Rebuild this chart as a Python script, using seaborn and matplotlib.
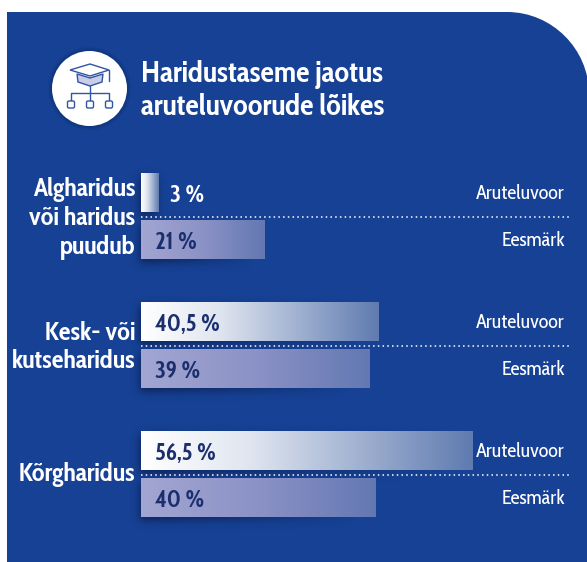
import math
import numpy as np
import pandas as pd
import seaborn as sns
import matplotlib
matplotlib.use("Agg")
import matplotlib.pyplot as plt
import matplotlib.patches as mpatches
from matplotlib.colors import LinearSegmentedColormap
from matplotlib.transforms import ScaledTranslation

# data
groups = ["Algharidus\nvõi haridus\npuudub", "Kesk- või\nkutseharidus", "Kõrgharidus"]
series = ["Aruteluvoor", "Eesmärk"]
aruteluvoor = [3, 40.5, 56.5]
eesmark = [21, 39, 40]
labels_a = ["3 %", "40,5 %", "56,5 %"]
labels_e = ["21 %", "39 %", "40 %"]
title = "Haridustaseme jaotus\naruteluvoorude lõikes"

W, H = 587, 562
BLUE = "#164194"
NAVY = "#1b2f6e"

sns.set_theme(style="white")
plt.rcParams["font.family"] = ["Cabin Condensed", "Liberation Sans", "DejaVu Sans"]

df = pd.DataFrame({
    "group": groups * 2,
    "series": [series[0]] * 3 + [series[1]] * 3,
    "value": aruteluvoor + eesmark,
})

fig = plt.figure(figsize=(W / 100, H / 100), dpi=100, facecolor="white")


def px(x, y, w, h):
    return [x / W, 1 - (y + h) / H, w / W, h / H]


# background panel, pixel coordinates
bg = fig.add_axes([0, 0, 1, 1])
bg.set_xlim(0, W)
bg.set_ylim(H, 0)
bg.axis("off")
panel = mpatches.PathPatch(
    mpatches.Path(
        [(7, H + 5), (7, 12), (507, 12), (552, 12), (589, 49), (589, 94), (589, H + 5), (7, H + 5)],
        [1, 2, 2, 4, 4, 4, 2, 2],
    ),
    fc=BLUE, ec="none",
)
bg.add_patch(panel)

# chart
ax = fig.add_axes(px(141, 152.25, 446, 386.75))
ax.patch.set_alpha(0)
sns.barplot(
    data=df, y="group", x="value", hue="series", hue_order=series, order=groups,
    orient="h", width=0.729, gap=0.18, legend=False, ax=ax, color="white",
    saturation=1, zorder=3,
)
ax.set_xlim(0, 446 / 5.87)
ax.set_ylim(2.5, -0.5)
ax.set_xlabel("")
ax.set_ylabel("")
ax.set_xticks([])
for s in ax.spines.values():
    s.set_visible(False)
ax.tick_params(axis="y", length=0, pad=4, colors="white")
up = ScaledTranslation(0, 3 / 100, fig.dpi_scale_trans)
for t in ax.get_yticklabels():
    t.set_fontsize(18.8)
    t.set_fontweight("bold")
    t.set_ha("right")
    t.set_linespacing(1.2)
    t.set_transform(t.get_transform() + up)

grad_a = LinearSegmentedColormap.from_list("a", ["#ffffff", "#dfe5ef", "#9fb0d0", "#5f7bb0"])
grad_e = LinearSegmentedColormap.from_list("e", ["#a3a6d2", "#8b92c6", "#6378b2"])
ramp = np.linspace(0, 1, 256).reshape(1, -1)
erf = np.vectorize(math.erf)

bars = sorted(ax.patches, key=lambda p: p.get_y())
all_labels = [labels_a[0], labels_e[0], labels_a[1], labels_e[1], labels_a[2], labels_e[2]]
xl, yl = ax.get_xlim(), ax.get_ylim()
xs = np.arange(W) + 0.5
ys = np.arange(H) + 0.5
shadow = np.zeros((H, W))
for i, (bar, lab) in enumerate(zip(bars, all_labels)):
    x0, y0, w, h = bar.get_x(), bar.get_y(), bar.get_width(), bar.get_height()
    cm = grad_a if i % 2 == 0 else grad_e
    ax.imshow(ramp, extent=[x0, x0 + w, y0 + h, y0], aspect="auto", cmap=cm, zorder=4)
    bar.set_visible(False)

    # blurred shadow in pixels, fading towards the right end of the bar
    (p0, q0), (p1, q1) = ax.transData.transform([(x0, y0), (x0 + w, y0 + h)])
    q0, q1 = H - q0, H - q1
    sig = 6.0
    bx = 0.5 * (erf((xs - p0 + 1) / sig) - erf((xs - p1 + 1) / sig))
    by = 0.5 * (erf((ys - q0 - 3) / sig) - erf((ys - q1 - 3) / sig))
    fade = np.clip(1 - (xs - p0) / max(p1 - p0, 60) * 1.1, 0, 1) ** 0.8
    shadow = np.maximum(shadow, np.outer(by, bx * fade))

    cy = y0 + h / 2
    if w < 5:
        ax.annotate(lab, (w, cy), xytext=(8.5, -2), textcoords="offset points", color="white",
                    fontsize=17, fontweight="bold", va="center", ha="left", zorder=5)
    else:
        ax.annotate(lab, (0, cy), xytext=(10, -2), textcoords="offset points", color=NAVY,
                    fontsize=17, fontweight="bold", va="center", ha="left", zorder=5)
    ax.annotate(series[i % 2], (1, cy), xycoords=("axes fraction", "data"), xytext=(-15.8, -0.5),
                textcoords="offset points", color="white", fontsize=14.5, va="center", ha="right", zorder=5)
ax.set_xlim(xl)
ax.set_ylim(yl)

rgba = np.zeros((H, W, 4))
rgba[..., :3] = (0.04, 0.10, 0.28)
rgba[..., 3] = 0.8 * shadow
bg.imshow(rgba, extent=[0, W, H, 0], aspect="auto", zorder=2, interpolation="bilinear")
bg.set_xlim(0, W)
bg.set_ylim(H, 0)

# dotted separators between the two bars of each group
ax.hlines(range(len(groups)), 0, 430 / 5.87, colors="white", lw=1.1,
          linestyles=(0, (1, 2.1)), zorder=2)

# title and icon
bg.text(141, 91, title, color="white", fontsize=21.6, fontweight="bold", va="center", ha="left",
        linespacing=1.15, zorder=6)

for k in range(6, 0, -1):
    bg.add_patch(mpatches.Circle((89.5, 88.5), 37.5 + k * 0.7, fc="#0b1f52", ec="none", alpha=0.05, zorder=3))
bg.add_patch(mpatches.Circle((89.5, 88.5), 37.5, fc="white", ec="none", zorder=3))
c = "#2f55a4"
bg.add_patch(mpatches.Polygon([(77, 74), (90, 78), (103, 74), (102, 82), (90, 86), (78, 82)],
                              fc="#c9cde8", ec=c, lw=1, zorder=4))
bg.add_patch(mpatches.Polygon([(70, 70), (90, 64), (109, 70), (90, 76)], fc="white", ec=c, lw=1, zorder=5))
bg.plot([109, 109], [70, 81], color=c, lw=1, zorder=5)
bg.plot([90, 90], [86, 101], color=c, lw=1, zorder=5)
bg.plot([71, 71, 109, 109], [101, 93, 93, 101], color=c, lw=1, zorder=5)
for xc in (71, 90, 109):
    bg.add_patch(mpatches.FancyBboxPatch((xc - 3.5, 101), 7, 7, boxstyle="round,pad=0,rounding_size=1.5",
                                         fc="white", ec=c, lw=1, zorder=6))

fig.savefig("out.png", dpi=100)
